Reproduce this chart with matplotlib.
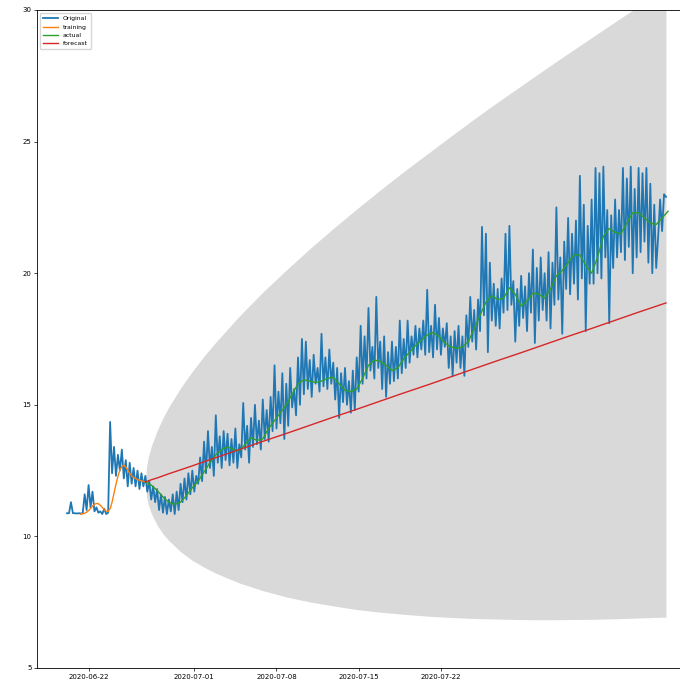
import numpy as np
import pandas as pd
import matplotlib
matplotlib.use("Agg")
import matplotlib.pyplot as plt

# observed series, one value every 4 hours
original_start = "2020-06-20 04:00"
original_vals = [
    10.88, 10.88, 11.30, 10.88, 10.88, 10.87, 10.88, 10.87, 10.88, 11.60,
    11.00, 11.95, 11.10, 11.70, 10.95, 11.10, 10.90, 10.95, 10.85, 11.05,
    10.85, 10.90, 14.35, 12.40, 13.40, 12.30, 13.10, 12.50, 13.30, 12.20,
    12.90, 11.90, 12.80, 12.00, 12.60, 11.90, 12.50, 11.80, 12.40, 11.90,
    12.30, 11.70, 12.10, 11.40, 11.90, 11.30, 11.80, 11.00, 11.60, 10.90,
    11.50, 10.85, 11.40, 10.95, 11.60, 10.85, 11.70, 11.00, 12.00, 11.30,
    12.20, 11.40, 12.40, 11.60, 12.50, 11.70, 12.30, 12.00, 13.00, 12.10,
    13.60, 12.40, 14.00, 12.60, 13.40, 12.30, 14.60, 12.80, 13.80, 12.60,
    14.00, 12.90, 13.90, 12.70, 13.70, 12.80, 14.10, 12.60, 13.50, 13.00,
    15.07, 13.30, 14.20, 12.80, 14.50, 13.40, 15.00, 13.50, 14.40, 13.30,
    15.20, 13.70, 14.80, 13.60, 15.30, 14.00, 16.50, 14.10, 15.50, 14.30,
    16.20, 13.70, 15.80, 14.20, 16.40, 14.90, 15.60, 14.60, 16.80, 15.00,
    17.50, 15.40, 17.40, 15.60, 16.70, 15.30, 16.90, 15.80, 16.40, 15.50,
    17.70, 15.70, 16.80, 15.60, 17.10, 15.80, 16.60, 15.20, 16.40, 14.50,
    16.20, 15.10, 16.40, 15.00, 15.90, 14.70, 16.30, 14.80, 16.80, 15.50,
    18.00, 15.80, 17.60, 16.00, 18.68, 16.30, 17.20, 16.00, 19.10, 16.40,
    17.40, 15.60, 17.60, 15.30, 17.00, 15.80, 17.40, 15.90, 17.20, 16.00,
    18.20, 16.20, 17.50, 16.40, 18.20, 16.60, 17.60, 16.90, 18.00, 16.80,
    17.90, 17.10, 18.20, 16.90, 19.37, 17.00, 18.00, 16.80, 18.80, 17.10,
    18.30, 16.90, 17.90, 17.20, 18.10, 16.40, 17.60, 16.10, 17.80, 16.60,
    18.00, 16.40, 17.60, 16.10, 18.40, 17.20, 19.10, 17.40, 18.60, 17.10,
    19.00, 17.80, 21.76, 18.40, 21.50, 17.00, 20.40, 18.20, 19.60, 18.00,
    19.40, 17.90, 19.80, 18.50, 21.50, 18.60, 21.80, 18.80, 19.70, 17.40,
    19.40, 18.00, 19.90, 18.30, 19.50, 17.80, 20.00, 18.50, 20.90, 17.35,
    20.20, 18.20, 20.60, 18.60, 20.00, 18.20, 20.80, 17.90, 20.40, 18.80,
    22.50, 19.00, 20.60, 17.70, 21.20, 19.40, 22.10, 19.20, 21.50, 19.60,
    22.00, 19.00, 23.70, 19.80, 22.60, 17.80, 21.80, 19.60, 22.80, 19.60,
    24.00, 20.00, 23.80, 19.80, 24.05, 20.60, 22.40, 18.10, 22.20, 20.20,
    22.80, 20.60, 22.40, 20.80, 24.00, 20.50, 23.60, 21.00, 24.05, 20.00,
    23.20, 20.60, 24.00, 20.80, 23.80, 21.20, 24.00, 20.40, 23.40, 20.00,
    22.60, 20.20, 21.40, 22.80, 21.60, 23.00, 22.90,
]

# fitted values on the training part, every 4 hours
training_start = "2020-06-21 08:00"
training_vals = [
    10.85, 10.86, 10.88, 10.92, 10.98, 11.06, 11.15, 11.22, 11.25, 11.24,
    11.18, 11.10, 11.02, 10.96, 10.95, 11.05, 11.30, 11.65, 11.98, 12.28,
    12.52, 12.66, 12.70, 12.64, 12.52, 12.40, 12.30, 12.24, 12.20, 12.16,
    12.13, 12.11, 12.09, 12.07,
]

# smoothed actual values on the test part, every 12 hours
actual_start = "2020-06-26 20:00"
actual_vals = [
    12.07, 11.95, 11.75, 11.50, 11.30, 11.22, 11.30, 11.55, 11.85, 12.10,
    12.45, 12.80, 13.10, 13.30, 13.40, 13.30, 13.25, 13.50, 13.75, 13.65,
    13.70, 14.10, 14.40, 14.70, 15.00, 15.40, 15.80, 15.95, 15.90, 15.85,
    15.90, 16.00, 16.05, 15.80, 15.55, 15.50, 15.60, 16.00, 16.50, 16.70,
    16.65, 16.50, 16.30, 16.40, 16.75, 17.00, 17.25, 17.45, 17.65, 17.75,
    17.60, 17.35, 17.20, 17.15, 17.20, 17.40, 17.90, 18.40, 18.90, 19.15,
    19.00, 19.05, 19.45, 19.20, 18.75, 18.95, 19.25, 19.20, 19.05, 19.40,
    19.90, 20.10, 20.40, 20.70, 20.70, 20.30, 20.00, 20.60, 21.40, 21.70,
    21.55, 21.50, 21.90, 22.30, 22.30, 22.10, 21.90, 21.85, 22.10, 22.35,
]

# forecast and confidence band, days after forecast start
fc_days = [0, 0.1, 0.25, 0.5, 1, 1.5, 2, 3, 4, 5, 6, 8, 10, 12, 14, 16, 18,
           20, 22, 24, 26, 28, 30, 32, 34, 36, 38, 40, 42, 44, 44.33]
forecast_vals = [12.07, 12.085, 12.11, 12.15, 12.22, 12.30, 12.38, 12.53,
                 12.68, 12.84, 12.99, 13.30, 13.61, 13.91, 14.22, 14.53,
                 14.83, 15.14, 15.45, 15.75, 16.06, 16.37, 16.68, 16.98,
                 17.29, 17.60, 17.90, 18.21, 18.52, 18.82, 18.87]
upper_vals = [12.07, 12.65, 13.01, 13.42, 14.02, 14.50, 14.92, 15.64, 16.27,
              16.85, 17.38, 18.37, 19.28, 20.12, 20.93, 21.70, 22.44, 23.16,
              23.86, 24.53, 25.20, 25.86, 26.50, 27.12, 27.74, 28.35, 28.95,
              29.55, 30.14, 30.72, 30.81]
lower_vals = [12.07, 11.52, 11.21, 10.88, 10.43, 10.10, 9.84, 9.42, 9.09,
              8.83, 8.60, 8.23, 7.94, 7.70, 7.51, 7.36, 7.22, 7.12, 7.04,
              6.97, 6.92, 6.88, 6.86, 6.84, 6.83, 6.84, 6.85, 6.87, 6.90,
              6.93, 6.93]

tick_dates = ["2020-06-22", "2020-07-01", "2020-07-08", "2020-07-15", "2020-07-22"]

orig_t = pd.date_range(original_start, periods=len(original_vals), freq="4h")
train_t = pd.date_range(training_start, periods=len(training_vals), freq="4h")
act_t = pd.date_range(actual_start, periods=len(actual_vals), freq="12h")
fc_t = pd.Timestamp(actual_start) + pd.to_timedelta(fc_days, unit="D")

fig = plt.figure(figsize=(6.8, 6.82), dpi=100)
ax = fig.add_axes([37 / 680, 1 - 668 / 682, (698 - 37) / 680, (668 - 10) / 682])

ax.fill_between(fc_t, lower_vals, upper_vals, color="k", alpha=0.15, linewidth=0)
ax.plot(orig_t, original_vals, color="C0", lw=1.3, label="Original")
ax.plot(train_t, training_vals, color="C1", lw=1.0, label="training")
ax.plot(act_t, actual_vals, color="C2", lw=1.0, label="actual")
ax.plot(fc_t, forecast_vals, color="C3", lw=1.0, label="forecast")

ax.set_ylim(5, 30)
ax.set_xticks(pd.to_datetime(tick_dates))
ax.set_xticklabels(tick_dates)
ax.tick_params(labelsize=5, length=2, width=0.5, pad=2)
for sp in ax.spines.values():
    sp.set_linewidth(0.6)

ax.legend(loc="upper left", fontsize=4.4, handlelength=2.4, borderpad=0.5,
          labelspacing=0.5, framealpha=0.8)

fig.savefig("out.png", dpi=100)
